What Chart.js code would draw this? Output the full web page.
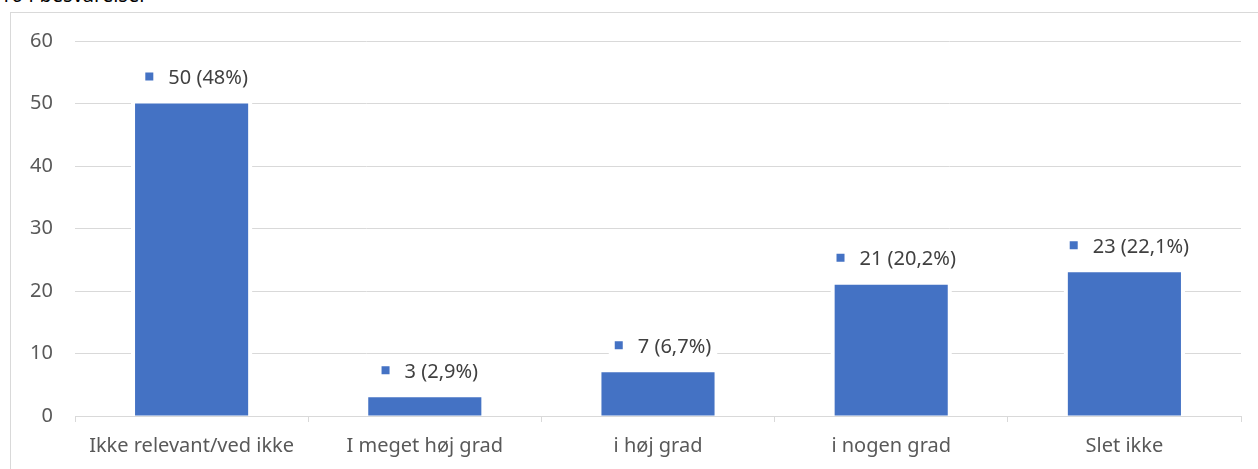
<!DOCTYPE html>
<html>
<head>
<meta charset="utf-8">
<script src="https://cdn.jsdelivr.net/npm/chart.js@4"></script>
<style>
  html, body { margin: 0; padding: 0; background: #fff; overflow: hidden; }
  #wrap { position: relative; width: 1258px; height: 469px; overflow: hidden; }
  #frame { position: absolute; left: 10px; top: 12px; width: 1300px; height: 500px; border: 1px solid #d9d9d9; box-sizing: border-box; }
  #title { position: absolute; left: 0; top: -19px; font: 20px "Noto Sans", sans-serif; color: #000; line-height: 27px; }
  #c { position: absolute; left: 0; top: 0; }
</style>
</head>
<body>
<div id="wrap">
  <div id="title">104 besvarelser</div>
  <div id="frame"></div>
  <canvas id="c" width="1258" height="469"></canvas>
</div>
<script>
// kategorier og svar
const categories = ['Ikke relevant/ved ikke', 'I meget høj grad', 'i høj grad', 'i nogen grad', 'Slet ikke'];
const counts = [50, 3, 7, 21, 23];
const shares = ['48%', '2,9%', '6,7%', '20,2%', '22,1%'];
const yMin = 0, yMax = 60, yStep = 10;

const blue = '#4472c4';
const fontFamily = '"Noto Sans", sans-serif';

// hvid kant rundt om søjlerne (bryder gitterlinjerne)
const haloPlugin = {
  id: 'halo',
  beforeDatasetsDraw(chart) {
    const ctx = chart.ctx;
    ctx.save();
    ctx.fillStyle = '#fff';
    chart.getDatasetMeta(0).data.forEach((bar) => {
      const w = bar.width;
      ctx.fillRect(bar.x - w / 2 - 4, bar.y - 2, w + 8, bar.base - bar.y + 1);
    });
    ctx.restore();
  }
};

// dataetiketter: lille firkant + tekst på hvid baggrund
const labelPlugin = {
  id: 'barLabels',
  afterDatasetsDraw(chart) {
    const ctx = chart.ctx;
    ctx.save();
    ctx.font = '20px ' + fontFamily;
    ctx.textBaseline = 'middle';
    chart.getDatasetMeta(0).data.forEach((bar, i) => {
      const text = counts[i] + ' (' + shares[i] + ')';
      const tw = ctx.measureText(text).width;
      const sq = 8, gap = 15;
      const total = sq + gap + tw;
      const left = bar.x + 5 - total / 2;
      const cy = bar.y - 26;
      ctx.fillStyle = '#fff';
      ctx.fillRect(left - 6, cy - 12, total + 12, 24);
      ctx.fillStyle = blue;
      ctx.fillRect(left, cy - 5, sq, sq);
      ctx.fillStyle = '#404040';
      ctx.fillText(text, left + sq + gap, cy + 1);
    });
    ctx.restore();
  }
};

const chart = new Chart(document.getElementById('c'), {
  type: 'bar',
  data: {
    labels: categories,
    datasets: [{
      data: counts,
      backgroundColor: blue,
      borderWidth: 0,
      barPercentage: 0.485,
      categoryPercentage: 1
    }]
  },
  options: {
    responsive: false,
    animation: false,
    layout: { padding: { top: 41, right: 17, left: 0, bottom: 0 } },
    plugins: { legend: { display: false }, tooltip: { enabled: false } },
    scales: {
      x: {
        offset: true,
        grid: { display: true, drawOnChartArea: false, drawTicks: true, tickLength: 6, offset: true, color: '#d9d9d9' },
        border: { display: true, color: '#d9d9d9' },
        ticks: { color: '#595959', font: { family: fontFamily, size: 20 }, padding: 12, maxRotation: 0 },
        afterFit(scale) { scale.height = 53; }
      },
      y: {
        min: yMin,
        max: yMax,
        grid: { color: '#d9d9d9', drawTicks: false },
        border: { display: false },
        ticks: { stepSize: yStep, color: '#595959', font: { family: fontFamily, size: 20 }, padding: 22 },
        afterFit(scale) { scale.width = 75; }
      }
    }
  },
  plugins: [haloPlugin, labelPlugin]
});
</script>
</body>
</html>
